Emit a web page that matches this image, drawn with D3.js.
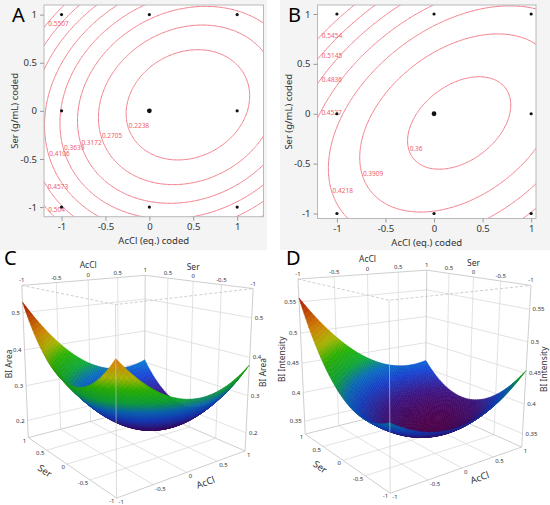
<!DOCTYPE html>
<html><head><meta charset="utf-8">
<script src="https://cdn.jsdelivr.net/npm/d3@7/dist/d3.min.js"></script>
<style>
html,body{margin:0;padding:0;background:#fff;}
svg{display:block;}
text{font-family:"Noto Sans","Open Sans",Arial,sans-serif;}
</style></head><body>
<svg id="fig" width="550" height="505"></svg>
<script>
// ===== data =====
const DESIGN_ACCL = [-1, 0, 1, -1, 0, 1, -1, 0, 1];
const DESIGN_SER  = [ 1, 1, 1,  0, 0, 0, -1, -1, -1];
const DESIGN_REPS = [ 1, 1, 1,  1, 3, 1,  1,  1,  1];
const AREA_PRED      = [0.529, 0.332, 0.305, 0.357, 0.200, 0.213, 0.465, 0.328, 0.381];
const INTENSITY_PRED = [0.557, 0.440, 0.413, 0.426, 0.355, 0.374, 0.430, 0.390, 0.455];
const AREA_LEVELS      = [0.2238, 0.2705, 0.3172, 0.3639, 0.4106, 0.4573, 0.504, 0.5507];
const INTENSITY_LEVELS = [0.36, 0.3909, 0.4218, 0.4527, 0.4836, 0.5145, 0.5454];
const CODED_TICKS = [-1, -0.5, 0, 0.5, 1];
const AREA_Z_TICKS = [0.2, 0.3, 0.4, 0.5];
const INTENSITY_Z_TICKS = [0.35, 0.4, 0.45, 0.5, 0.55];
const AREA_Z_RANGE = [0.15, 0.572];
const INTENSITY_Z_RANGE = [0.327, 0.586];

// ===== layout: screen positions of the 3-D box (X=AcCl, Y=Ser, W=0 floor / 1 top) =====
const C_BOX = [
  [-1, 1, 1, 20.7, 285.7], [-1, 1, 0, 28.3, 436.7],
  [-1,-1, 1, 116.7, 305],  [-1,-1, 0, 116.7, 498.3],
  [ 1,-1, 1, 251.7, 287.3],[ 1,-1, 0, 245, 451.7],
  [ 1, 1, 1, 145.7, 275.7],[ 0, 1, 1, 88.3, 280.3], [ 1, 0, 1, 194, 281]];
const D_BOX = [
  [-1, 1, 1, 295.7, 280.7],[-1, 1, 0, 304.5, 431.5],
  [-1,-1, 1, 391.5, 300],  [-1,-1, 0, 392, 494],
  [ 1,-1, 1, 528.3, 283.3],[ 1,-1, 0, 521, 449],
  [ 1, 1, 1, 430, 270.5],  [ 0, 1, 1, 367, 275.3], [ 1, 0, 1, 473.3, 276.1]];

// ===== helpers =====
function solve(A, b) {
  const n = b.length;
  const M = A.map((r, i) => r.slice().concat([b[i]]));
  for (let c = 0; c < n; c++) {
    let p = c;
    for (let r = c + 1; r < n; r++) if (Math.abs(M[r][c]) > Math.abs(M[p][c])) p = r;
    const t = M[c]; M[c] = M[p]; M[p] = t;
    for (let r = 0; r < n; r++) {
      if (r === c) continue;
      const f = M[r][c] / M[c][c];
      if (f === 0) continue;
      for (let k = c; k <= n; k++) M[r][k] -= f * M[c][k];
    }
  }
  return M.map((r, i) => r[n] / r[i]);
}
function lstsq(rows, rhs) {
  const n = rows[0].length;
  const A = Array.from({length: n}, () => new Array(n).fill(0));
  const b = new Array(n).fill(0);
  rows.forEach((r, k) => {
    for (let i = 0; i < n; i++) {
      b[i] += r[i] * rhs[k];
      for (let j = 0; j < n; j++) A[i][j] += r[i] * r[j];
    }
  });
  return solve(A, b);
}
function fitQuadratic(pred) {
  const rows = DESIGN_ACCL.map((a, i) => { const s = DESIGN_SER[i]; return [1, a, s, a*a, s*s, a*s]; });
  const c = lstsq(rows, pred);
  return (x, y) => c[0] + c[1]*x + c[2]*y + c[3]*x*x + c[4]*y*y + c[5]*x*y;
}
function fitProjection(corr) {
  const mu = d3.mean(corr, c => c[3]), mv = d3.mean(corr, c => c[4]), s = 100;
  const rows = [], rhs = [];
  corr.forEach(([X, Y, Wt, u0, v0]) => {
    const u = (u0 - mu) / s, v = (v0 - mv) / s;
    rows.push([X, Y, Wt, 1, 0, 0, 0, 0, -u*X, -u*Y, -u*Wt]); rhs.push(u);
    rows.push([0, 0, 0, 0, X, Y, Wt, 1, -v*X, -v*Y, -v*Wt]); rhs.push(v);
  });
  const p = lstsq(rows, rhs);
  return (X, Y, Wt) => {
    const w = p[8]*X + p[9]*Y + p[10]*Wt + 1;
    return [mu + s*(p[0]*X + p[1]*Y + p[2]*Wt + p[3]) / w,
            mv + s*(p[4]*X + p[5]*Y + p[6]*Wt + p[7]) / w, w];
  };
}

const areaModel = fitQuadratic(AREA_PRED);
const intensityModel = fitQuadratic(INTENSITY_PRED);
const svg = d3.select("#fig");
const fmt = d => String(d);

// ===== contour panels =====
function contourPanel(o) {
  const g = svg.append("g");
  g.append("rect").attr("x", o.bg[0]).attr("y", o.bg[1]).attr("width", o.bg[2]).attr("height", o.bg[3]).attr("fill", "#f4f4f4");
  const x = d3.scaleLinear().domain(o.xDom).range(o.xRange);
  const y = d3.scaleLinear().domain(o.yDom).range(o.yRange);
  const pw = o.xRange[1] - o.xRange[0], ph = o.yRange[0] - o.yRange[1];
  g.append("rect").attr("x", o.xRange[0]).attr("y", o.yRange[1]).attr("width", pw).attr("height", ph).attr("fill", "#fff");
  const cid = "clip" + o.letter;
  g.append("clipPath").attr("id", cid).append("rect")
    .attr("x", o.xRange[0]).attr("y", o.yRange[1]).attr("width", pw).attr("height", ph);

  const n = 240, m = 240, pad = 0.4;
  const gx0 = o.xDom[0] - pad, gx1 = o.xDom[1] + pad, gy0 = o.yDom[0] - pad, gy1 = o.yDom[1] + pad;
  const sx = (gx1 - gx0) / (n - 1), sy = (gy1 - gy0) / (m - 1);
  const values = new Float64Array(n * m);
  for (let j = 0; j < m; j++) for (let i = 0; i < n; i++) values[j*n + i] = o.model(gx0 + i*sx, gy0 + j*sy);
  const toData = (px, py) => [gx0 + (px - 0.5)*sx, gy0 + (py - 0.5)*sy];
  const contours = d3.contours().size([n, m]).thresholds(o.levels)(values);
  const path = d3.geoPath(d3.geoTransform({point(px, py) { const q = toData(px, py); this.stream.point(x(q[0]), y(q[1])); }}));
  g.append("g").attr("clip-path", `url(#${cid})`)
    .selectAll("path").data(contours).join("path")
    .attr("d", path).attr("fill", "none").attr("stroke", "#f27c88").attr("stroke-width", 1);

  // contour labels
  const lab = g.append("g").attr("font-size", 6.5).attr("fill", "#f0606e");
  contours.forEach(c => {
    let best = null, bs = Infinity;
    c.coordinates.forEach(poly => poly.forEach(ring => ring.forEach(pt => {
      const q = toData(pt[0], pt[1]);
      if (q[0] < o.xDom[0] + 0.03 || q[0] > o.xDom[1] - 0.3 || q[1] < o.yDom[0] + 0.04 || q[1] > o.yDom[1] - 0.07) return;
      const sc = q[0] + o.labelDir * q[1];
      if (sc < bs) { bs = sc; best = q; }
    })));
    if (best) lab.append("text").attr("x", x(best[0]) + 1).attr("y", y(best[1])).attr("dy", "0.35em").text(fmt(c.value));
  });

  // frame
  g.append("rect").attr("x", o.xRange[0]).attr("y", o.yRange[1]).attr("width", pw).attr("height", ph)
    .attr("fill", "none").attr("stroke", "#b8b8b8");

  // design points
  g.selectAll("circle.pt").data(DESIGN_ACCL.map((a, i) => ({a, s: DESIGN_SER[i], r: DESIGN_REPS[i]})))
    .join("circle").attr("cx", d => x(d.a)).attr("cy", d => y(d.s)).attr("r", d => d.r > 1 ? 2.4 : 1.6).attr("fill", "#111");

  // axes
  const ax = g.append("g").attr("transform", `translate(0,${o.yRange[0]})`)
    .call(d3.axisBottom(x).tickValues(CODED_TICKS).tickSize(4).tickPadding(3).tickFormat(fmt));
  const ay = g.append("g").attr("transform", `translate(${o.xRange[0]},0)`)
    .call(d3.axisLeft(y).tickValues(CODED_TICKS).tickSize(4).tickPadding(3).tickFormat(fmt));
  [ax, ay].forEach(a => {
    a.select(".domain").remove();
    a.selectAll("line").attr("stroke", "#999");
    a.selectAll("text").attr("fill", "#333").attr("font-size", 9.5).attr("font-family", null);
  });
  g.append("text").attr("x", (o.xRange[0] + o.xRange[1]) / 2).attr("y", o.yRange[0] + 27)
    .attr("text-anchor", "middle").attr("font-size", 9.5).attr("fill", "#333").text("AcCl (eq.) coded");
  g.append("text").attr("transform", `translate(${o.xRange[0] - 29},${(o.yRange[0] + o.yRange[1]) / 2}) rotate(-90)`)
    .attr("dy", "0.35em").attr("text-anchor", "middle").attr("font-size", 9.5).attr("fill", "#333").text("Ser (g/mL) coded");
  g.append("text").attr("x", o.letterPos[0]).attr("y", o.letterPos[1]).attr("font-size", 20).attr("fill", "#000").text(o.letter);
}

contourPanel({letter: "A", letterPos: [12, 22], bg: [0, 0, 267, 250],
  xDom: [-1.2, 1.3], xRange: [44, 263.5], yDom: [-1.1, 1.1], yRange: [216.7, 5],
  model: areaModel, levels: AREA_LEVELS, labelDir: 0.3});
contourPanel({letter: "B", letterPos: [288, 21.5], bg: [280, 0, 270, 250],
  xDom: [-1.2, 1.05], xRange: [317.5, 536], yDom: [-1.05, 1.09], yRange: [218.5, 5],
  model: intensityModel, levels: INTENSITY_LEVELS, labelDir: 0.3});

// ===== 3-D surface panels =====
const cmap = d3.scaleLinear()
  .domain([0, 0.12, 0.25, 0.34, 0.44, 0.56, 0.66, 0.77, 1])
  .range(["#560054", "#40148c", "#1848e0", "#0a78d8", "#10c040", "#30d000", "#c8d400", "#f49a00", "#d01000"])
  .clamp(true);

function surfacePanel(o) {
  const P = fitProjection(o.box);
  const Wz = d3.scaleLinear().domain(o.zRange).range([0, 1]);
  const g = svg.append("g");
  const seg = pts => d3.line()(pts.map(p => { const q = P(p[0], p[1], p[2]); return [q[0], q[1]]; }));
  const grid = g.append("g").attr("fill", "none").attr("stroke", "#dadada").attr("stroke-width", 0.8);
  [-0.5, 0, 0.5].forEach(t => {
    grid.append("path").attr("d", seg([[t, 1, 0], [t, 1, 1]]));
    grid.append("path").attr("d", seg([[1, t, 0], [1, t, 1]]));
    grid.append("path").attr("d", seg([[t, -1, 0], [t, 1, 0]]));
    grid.append("path").attr("d", seg([[-1, t, 0], [1, t, 0]]));
  });
  o.zTicks.forEach(z => { const w = Wz(z); grid.append("path").attr("d", seg([[-1, 1, w], [1, 1, w], [1, -1, w]])); });
  const edges = g.append("g").attr("fill", "none").attr("stroke", "#c8c8c8").attr("stroke-width", 0.9);
  edges.append("path").attr("d", seg([[-1, 1, 0], [1, 1, 0], [1, -1, 0]]));
  edges.append("path").attr("d", seg([[-1, 1, 1], [1, 1, 1], [1, -1, 1]]));
  [[-1, 1], [1, 1], [1, -1]].forEach(c => edges.append("path").attr("d", seg([[c[0], c[1], 0], [c[0], c[1], 1]])));

  // surface
  const N = 50;
  let smin = Infinity, smax = -Infinity;
  for (let i = 0; i <= N; i++) for (let j = 0; j <= N; j++) {
    const v = o.model(-1 + 2*i/N, -1 + 2*j/N); smin = Math.min(smin, v); smax = Math.max(smax, v);
  }
  const far = Math.sign(P(1, 1, 0.5)[2] - P(-1, -1, 0.5)[2]) || 1;
  let L = [-0.55, -0.7, 0.45]; const ln = Math.hypot(...L); L = L.map(v => v / ln);
  const cells = [];
  for (let i = 0; i < N; i++) for (let j = 0; j < N; j++) {
    const x0 = -1 + 2*i/N, x1 = -1 + 2*(i+1)/N, y0 = -1 + 2*j/N, y1 = -1 + 2*(j+1)/N;
    const quad = [[x0, y0], [x1, y0], [x1, y1], [x0, y1]];
    const pts = quad.map(q => P(q[0], q[1], Wz(o.model(q[0], q[1]))));
    const xc = (x0 + x1) / 2, yc = (y0 + y1) / 2, zc = o.model(xc, yc);
    const e = 1e-3;
    const gx = 2 * (Wz(o.model(xc + e, yc)) - Wz(o.model(xc - e, yc))) / (2*e);
    const gy = 2 * (Wz(o.model(xc, yc + e)) - Wz(o.model(xc, yc - e))) / (2*e);
    const nn = Math.hypot(gx, gy, 1);
    const dot = Math.abs((-gx*L[0] - gy*L[1] + L[2]) / nn);
    const shade = 0.74 + 0.26 * dot;
    const col = d3.rgb(cmap((zc - smin) / (smax - smin)));
    col.r *= shade; col.g *= shade; col.b *= shade;
    cells.push({
      d: "M" + pts.map(p => p[0].toFixed(2) + "," + p[1].toFixed(2)).join("L") + "Z",
      depth: far * d3.mean(pts, p => p[2]),
      c: col.formatHex()
    });
  }
  cells.sort((a, b) => b.depth - a.depth);
  g.append("g").selectAll("path").data(cells).join("path")
    .attr("d", d => d.d).attr("fill", d => d.c).attr("stroke", d => d.c).attr("stroke-width", 0.5).attr("stroke-linejoin", "round");

  // front edges
  const fe = g.append("g").attr("fill", "none").attr("stroke", "#c8c8c8").attr("stroke-width", 0.9);
  fe.append("path").attr("d", seg([[-1, 1, 0], [-1, -1, 0], [1, -1, 0]]));
  fe.append("path").attr("d", seg([[-1, -1, 0], [-1, -1, 1]])).attr("stroke-opacity", 0.7);
  fe.append("path").attr("d", seg([[-1, 1, 1], [-1, -1, 1], [1, -1, 1]])).attr("stroke-dasharray", "3,2");

  // labels
  const T = g.append("g").attr("fill", "#333").attr("font-size", 6);
  let lw = 0, rw = 0;
  o.zTicks.forEach(z => {
    const a = P(-1, 1, Wz(z)), b = P(1, -1, Wz(z));
    const t1 = T.append("text").attr("x", a[0] - 3).attr("y", a[1]).attr("dy", "0.35em").attr("text-anchor", "end").text(fmt(z));
    const t2 = T.append("text").attr("x", b[0] + 3).attr("y", b[1]).attr("dy", "0.35em").text(fmt(z));
    lw = Math.max(lw, t1.node().getComputedTextLength()); rw = Math.max(rw, t2.node().getComputedTextLength());
  });
  CODED_TICKS.forEach(t => {
    const a = P(t, 1, 1);
    T.append("text").attr("x", a[0]).attr("y", a[1] - 3).attr("text-anchor", "middle").text(fmt(t));
    if (t < 1) { const b = P(1, t, 1); T.append("text").attr("x", b[0]).attr("y", b[1] - 3).attr("text-anchor", "middle").text(fmt(t)); }
    const c = P(-1, t, 0);
    T.append("text").attr("x", c[0] - 2).attr("y", c[1] + 3).attr("dy", "0.35em").attr("text-anchor", "end").text(fmt(t));
    const d = P(t, -1, 0);
    T.append("text").attr("x", d[0] + 2).attr("y", d[1] + 4).attr("dy", "0.35em").text(fmt(t));
  });
  const TT = g.append("g").attr("fill", "#333");
  const ta = P(0, 1, 1), ts = P(1, 0, 1);
  TT.append("text").attr("x", ta[0]).attr("y", ta[1] - 12).attr("text-anchor", "middle").attr("font-size", 8.5).text("AcCl");
  TT.append("text").attr("x", ts[0]).attr("y", ts[1] - 11).attr("text-anchor", "middle").attr("font-size", 8.5).text("Ser");
  const zl = P(-1, 1, 0.5), zr = P(1, -1, 0.5);
  TT.append("text").attr("transform", `translate(${zl[0] - lw - 5},${zl[1]}) rotate(-90)`)
    .attr("text-anchor", "middle").attr("font-size", 8.5).text(o.zTitle);
  TT.append("text").attr("transform", `translate(${zr[0] + rw + 9},${zr[1]}) rotate(-90)`)
    .attr("text-anchor", "middle").attr("font-size", 8.5).text(o.zTitle);
  const sa = P(-1, 1, 0), sb = P(-1, -1, 0), sp = P(-1.3, 0, 0);
  const angS = Math.atan2(sb[1] - sa[1], sb[0] - sa[0]) * 180 / Math.PI;
  TT.append("text").attr("transform", `translate(${sp[0]},${sp[1]}) rotate(${angS})`)
    .attr("text-anchor", "middle").attr("dy", "0.35em").attr("font-size", 9.5).text("Ser");
  const aa = P(-1, -1, 0), ab = P(1, -1, 0), ap = P(0, -1.3, 0);
  const angA = Math.atan2(ab[1] - aa[1], ab[0] - aa[0]) * 180 / Math.PI;
  TT.append("text").attr("transform", `translate(${ap[0]},${ap[1]}) rotate(${angA})`)
    .attr("text-anchor", "middle").attr("dy", "0.35em").attr("font-size", 9.5).text("AcCl");
  g.append("text").attr("x", o.letterPos[0]).attr("y", o.letterPos[1]).attr("font-size", 20).attr("fill", "#000").text(o.letter);
}

surfacePanel({letter: "C", letterPos: [4, 265], box: C_BOX, model: areaModel,
  zRange: AREA_Z_RANGE, zTicks: AREA_Z_TICKS, zTitle: "BI Area"});
surfacePanel({letter: "D", letterPos: [286, 265], box: D_BOX, model: intensityModel,
  zRange: INTENSITY_Z_RANGE, zTicks: INTENSITY_Z_TICKS, zTitle: "BI Intensity"});
</script>
</body></html>
